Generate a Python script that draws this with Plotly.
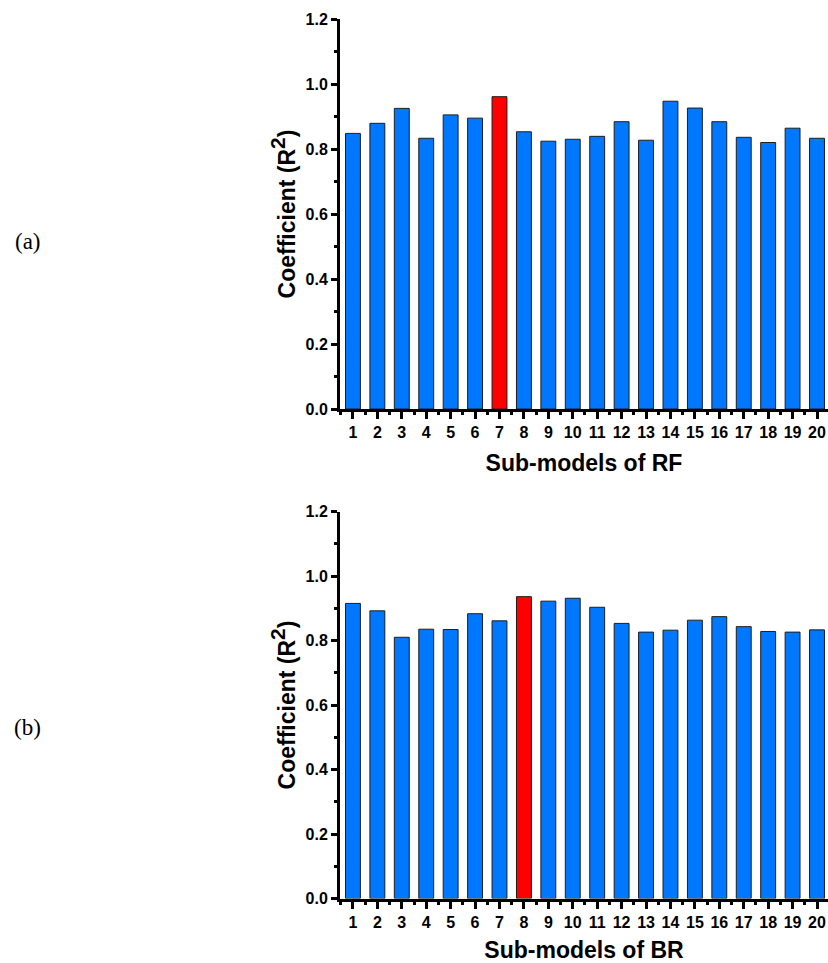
import plotly.graph_objects as go

submodels = list(range(1, 21))
rf_r2 = [0.848, 0.879, 0.925, 0.833, 0.905, 0.895, 0.961, 0.853, 0.824, 0.830,
         0.839, 0.884, 0.827, 0.947, 0.926, 0.884, 0.836, 0.820, 0.864, 0.833]
br_r2 = [0.915, 0.892, 0.810, 0.835, 0.834, 0.883, 0.861, 0.936, 0.922, 0.931,
         0.903, 0.853, 0.826, 0.832, 0.863, 0.874, 0.843, 0.828, 0.826, 0.833]
rf_best = 7
br_best = 8
tick_labels = [str(i) for i in submodels]

BLUE = "#0077FF"
RED = "#FF0000"

W, H = 828, 963

def colors(best):
    return [RED if s == best else BLUE for s in submodels]

fig = go.Figure()
fig.add_trace(go.Bar(x=submodels, y=rf_r2, marker=dict(color=colors(rf_best),
              line=dict(color="#1e1e1e", width=1)), width=0.61,
              xaxis="x", yaxis="y", showlegend=False))
fig.add_trace(go.Bar(x=submodels, y=br_r2, marker=dict(color=colors(br_best),
              line=dict(color="#1e1e1e", width=1)), width=0.61,
              xaxis="x2", yaxis="y2", showlegend=False))

tickfont = dict(family="Arial, Liberation Sans", size=16, color="black", weight="bold")
titlefont = dict(family="Arial, Liberation Sans", size=23, color="black", weight="bold")

xdom = [340 / W, 1.0]
top_dom = [1 - 409 / H, 1 - 19 / H]
bot_dom = [1 - 898.5 / H, 1 - 511.5 / H]

def xaxis_cfg(anchor, title):
    return dict(domain=xdom, anchor=anchor, range=[0.47, 20.45], automargin=False,
                tickmode="array", tickvals=submodels, ticktext=tick_labels,
                ticks="outside", ticklen=7, tickwidth=3, tickcolor="black",
                showline=True, linecolor="black", linewidth=3,
                showgrid=False, zeroline=False, tickfont=tickfont,
                minor=dict(tickmode="array", tickvals=[i + 0.5 for i in range(0, 21)],
                           ticks="outside", ticklen=3, tickwidth=3, tickcolor="black", showgrid=False),
                title=dict(text=title, font=titlefont, standoff=15))

def yaxis_cfg(anchor, dom):
    return dict(domain=dom, anchor=anchor, range=[0, 1.2], automargin=False,
                tickmode="linear", tick0=0, dtick=0.2, tickformat=".1f",
                ticks="outside", ticklen=6, tickwidth=3, tickcolor="black",
                showline=True, linecolor="black", linewidth=3,
                showgrid=False, zeroline=False, tickfont=tickfont,
                minor=dict(tick0=0, dtick=0.1, ticks="outside", ticklen=3, tickwidth=3,
                           tickcolor="black", showgrid=False),
                title=dict(text="Coefficient (R<sup><span style='font-size:21px'>2</span></sup>)",
                           font=titlefont, standoff=4))

fig.update_layout(
    width=W, height=H,
    margin=dict(l=0, r=0, t=0, b=0, autoexpand=False),
    paper_bgcolor="white", plot_bgcolor="white",
    bargap=0.39,
    xaxis=xaxis_cfg("y", "Sub-models of RF"),
    yaxis=yaxis_cfg("x", top_dom),
    xaxis2=xaxis_cfg("y2", "Sub-models of BR"),
    yaxis2=yaxis_cfg("x2", bot_dom),
    annotations=[
        dict(text="(a)", x=28 / W, y=1 - 242 / H, xref="paper", yref="paper",
             xanchor="center", yanchor="middle",
             showarrow=False, font=dict(family="Liberation Serif", size=23, color="black")),
        dict(text="(b)", x=28 / W, y=1 - 727 / H, xref="paper", yref="paper",
             xanchor="center", yanchor="middle",
             showarrow=False, font=dict(family="Liberation Serif", size=23, color="black")),
    ],
)

fig.write_html("out.html")
